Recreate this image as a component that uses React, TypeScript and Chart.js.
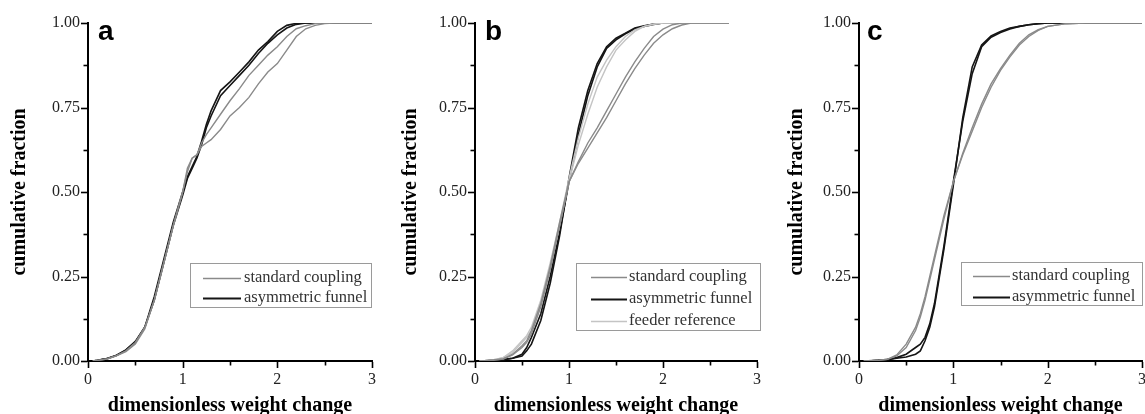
import { useEffect, useRef } from 'react';
import { Chart, registerables } from 'chart.js';

Chart.register(...registerables);

// ---------- data ----------
const xTicks = [0, 1, 2, 3];
const yTicks = [0, 0.25, 0.5, 0.75, 1];

// panel a
const xA = [0.05, 0.1, 0.2, 0.3, 0.4, 0.5, 0.6, 0.7, 0.8, 0.9, 1.0, 1.05, 1.1, 1.15, 1.2, 1.25, 1.3, 1.4, 1.5, 1.6, 1.7, 1.8, 1.9, 2.0, 2.1, 2.2, 2.3, 2.4, 2.5, 2.6, 2.8, 3.0];
const aStd1 = [0, 0.002, 0.006, 0.016, 0.03, 0.055, 0.1, 0.18, 0.29, 0.4, 0.5, 0.57, 0.6, 0.61, 0.645, 0.67, 0.69, 0.73, 0.77, 0.806, 0.845, 0.875, 0.905, 0.93, 0.96, 0.983, 0.992, 0.998, 1, 1, 1, 1];
const aStd2 = [0, 0.002, 0.006, 0.015, 0.028, 0.05, 0.095, 0.18, 0.29, 0.4, 0.5, 0.56, 0.6, 0.61, 0.635, 0.645, 0.655, 0.685, 0.725, 0.75, 0.78, 0.82, 0.855, 0.88, 0.92, 0.96, 0.983, 0.993, 0.998, 1, 1, 1];
const aFun1 = [0, 0.002, 0.007, 0.017, 0.033, 0.058, 0.1, 0.19, 0.3, 0.41, 0.5, 0.545, 0.575, 0.605, 0.65, 0.7, 0.74, 0.8, 0.826, 0.855, 0.885, 0.92, 0.945, 0.975, 0.993, 0.999, 1, 1, 1, 1, 1, 1];
const aFun2 = [0, 0.002, 0.007, 0.016, 0.032, 0.056, 0.1, 0.18, 0.29, 0.4, 0.49, 0.54, 0.57, 0.6, 0.64, 0.69, 0.725, 0.785, 0.815, 0.845, 0.875, 0.91, 0.94, 0.965, 0.985, 0.996, 1, 1, 1, 1, 1, 1];

// panel b
const xB = [0.05, 0.1, 0.2, 0.3, 0.4, 0.5, 0.55, 0.6, 0.7, 0.8, 0.9, 1.0, 1.1, 1.2, 1.3, 1.4, 1.5, 1.6, 1.7, 1.8, 1.9, 2.0, 2.1, 2.2, 2.3, 2.4, 2.7];
const bStd1 = [0, 0.001, 0.003, 0.006, 0.018, 0.04, 0.055, 0.08, 0.16, 0.27, 0.4, 0.53, 0.585, 0.63, 0.675, 0.72, 0.77, 0.82, 0.865, 0.905, 0.94, 0.965, 0.983, 0.994, 1, 1, 1];
const bStd2 = [0, 0.001, 0.003, 0.006, 0.02, 0.045, 0.06, 0.09, 0.17, 0.28, 0.41, 0.53, 0.59, 0.645, 0.69, 0.74, 0.79, 0.84, 0.885, 0.925, 0.96, 0.982, 0.995, 1, 1, 1, 1];
const bFun1 = [0, 0, 0.002, 0.004, 0.008, 0.015, 0.03, 0.05, 0.12, 0.23, 0.37, 0.54, 0.69, 0.8, 0.88, 0.93, 0.955, 0.97, 0.985, 0.992, 0.997, 1, 1, 1, 1, 1, 1];
const bFun2 = [0, 0, 0.002, 0.004, 0.008, 0.02, 0.04, 0.07, 0.14, 0.25, 0.38, 0.53, 0.67, 0.785, 0.87, 0.925, 0.95, 0.968, 0.982, 0.99, 0.996, 1, 1, 1, 1, 1, 1];
const bFeed1 = [0, 0.001, 0.004, 0.01, 0.025, 0.055, 0.07, 0.09, 0.17, 0.28, 0.4, 0.53, 0.64, 0.73, 0.81, 0.87, 0.92, 0.95, 0.975, 0.99, 0.996, 1, 1, 1, 1, 1, 1];
const bFeed2 = [0, 0.001, 0.004, 0.01, 0.03, 0.06, 0.075, 0.1, 0.18, 0.29, 0.41, 0.54, 0.66, 0.76, 0.84, 0.89, 0.93, 0.96, 0.98, 0.99, 0.997, 1, 1, 1, 1, 1, 1];

// panel c
const xC = [0.05, 0.1, 0.2, 0.3, 0.4, 0.5, 0.6, 0.65, 0.7, 0.75, 0.8, 0.9, 1.0, 1.1, 1.2, 1.3, 1.4, 1.5, 1.6, 1.7, 1.8, 1.9, 2.0, 2.2, 2.4, 2.6, 3.0];
const cStd1 = [0, 0.001, 0.002, 0.005, 0.015, 0.04, 0.09, 0.13, 0.18, 0.24, 0.3, 0.42, 0.53, 0.61, 0.68, 0.75, 0.81, 0.86, 0.9, 0.935, 0.96, 0.978, 0.99, 0.998, 1, 1, 1];
const cStd2 = [0, 0.001, 0.002, 0.005, 0.018, 0.05, 0.1, 0.14, 0.19, 0.25, 0.31, 0.43, 0.53, 0.615, 0.69, 0.76, 0.82, 0.865, 0.905, 0.94, 0.965, 0.98, 0.99, 0.998, 1, 1, 1];
const cFun1 = [0, 0, 0.002, 0.004, 0.008, 0.012, 0.02, 0.03, 0.06, 0.1, 0.16, 0.33, 0.52, 0.72, 0.87, 0.935, 0.962, 0.975, 0.985, 0.99, 0.995, 0.998, 1, 1, 1, 1, 1];
const cFun2 = [0, 0, 0.002, 0.004, 0.01, 0.02, 0.04, 0.05, 0.07, 0.11, 0.17, 0.34, 0.53, 0.71, 0.85, 0.93, 0.958, 0.972, 0.982, 0.99, 0.995, 0.998, 1, 1, 1, 1, 1];

const LBL_STD = 'standard coupling';
const LBL_FUN = 'asymmetric funnel';
const LBL_FEED = 'feeder reference';
const X_TITLE = 'dimensionless weight change';
const Y_TITLE = 'cumulative fraction';

// ---------- styles ----------
const C_STD = '#8a8a8a';
const C_FUN = '#151515';
const C_FEED = '#c4c4c4';
const SERIF = '"Liberation Serif", "Times New Roman", serif';
const PAGE_H = 414;

type Curve = { xs: number[]; ys: number[]; color: string; width: number };
type LegendRow = { label: string; color: string; width: number };
type PanelCfg = {
  letter: string;
  left: number;
  width: number;
  yAxisWidth: number;
  padRight: number;
  yTitlePad: number;
  curves: Curve[];
  legend: { left: number; top: number; right: number; bottom: number; rows: LegendRow[]; rowY: number[]; lineX0: number; lineX1: number; textX: number };
  letterX: number;
};

const panels: PanelCfg[] = [
  {
    letter: 'a', left: 0, width: 385, yAxisWidth: 88, padRight: 13, yTitlePad: 10,
    curves: [
      { xs: xA, ys: aStd1, color: C_STD, width: 1.4 },
      { xs: xA, ys: aStd2, color: C_STD, width: 1.4 },
      { xs: xA, ys: aFun1, color: C_FUN, width: 1.6 },
      { xs: xA, ys: aFun2, color: C_FUN, width: 1.6 },
    ],
    legend: { left: 190, top: 263, right: 371, bottom: 307, rowY: [278, 298], lineX0: 203, lineX1: 241, textX: 244,
      rows: [{ label: LBL_STD, color: C_STD, width: 1.3 }, { label: LBL_FUN, color: C_FUN, width: 2 }] },
    letterX: 98,
  },
  {
    letter: 'b', left: 380, width: 390, yAxisWidth: 95, padRight: 12, yTitlePad: 21,
    curves: [
      { xs: xB, ys: bStd1, color: C_STD, width: 1.4 },
      { xs: xB, ys: bStd2, color: C_STD, width: 1.4 },
      { xs: xB, ys: bFeed1, color: C_FEED, width: 1.4 },
      { xs: xB, ys: bFeed2, color: C_FEED, width: 1.4 },
      { xs: xB, ys: bFun1, color: C_FUN, width: 1.6 },
      { xs: xB, ys: bFun2, color: C_FUN, width: 1.6 },
    ],
    legend: { left: 196, top: 263, right: 380, bottom: 330, rowY: [277, 299, 321], lineX0: 211, lineX1: 247, textX: 249,
      rows: [{ label: LBL_STD, color: C_STD, width: 1.3 }, { label: LBL_FUN, color: C_FUN, width: 2 }, { label: LBL_FEED, color: C_FEED, width: 1.3 }] },
    letterX: 105,
  },
  {
    letter: 'c', left: 760, width: 395, yAxisWidth: 99, padRight: 12, yTitlePad: 27,
    curves: [
      { xs: xC, ys: cStd1, color: C_STD, width: 1.4 },
      { xs: xC, ys: cStd2, color: C_STD, width: 1.4 },
      { xs: xC, ys: cFun1, color: C_FUN, width: 1.6 },
      { xs: xC, ys: cFun2, color: C_FUN, width: 1.6 },
    ],
    legend: { left: 201, top: 262, right: 382, bottom: 305, rowY: [276, 297], lineX0: 213, lineX1: 250, textX: 252,
      rows: [{ label: LBL_STD, color: C_STD, width: 1.3 }, { label: LBL_FUN, color: C_FUN, width: 2 }] },
    letterX: 107,
  },
];

const decorPlugin = {
  id: 'decor',
  afterDraw(chart: any, _args: any, opts: any) {
    const ctx = chart.ctx as CanvasRenderingContext2D;
    const xs = chart.scales.x;
    const ys = chart.scales.y;
    const area = chart.chartArea;
    ctx.save();
    ctx.strokeStyle = '#000';
    ctx.lineWidth = 1.6;
    // y ticks (outward)
    for (let i = 0; i <= 8; i++) {
      const val = i * 0.125;
      const len = i % 2 === 0 ? 6 : 3.5;
      const py = Math.round(ys.getPixelForValue(val)) + 0.5;
      ctx.beginPath();
      ctx.moveTo(area.left - 1, py);
      ctx.lineTo(area.left - 1 - len, py);
      ctx.stroke();
    }
    // x ticks (outward)
    for (let i = 0; i <= 6; i++) {
      const val = i * 0.5;
      const len = i % 2 === 0 ? 6 : 3.5;
      const px = Math.round(xs.getPixelForValue(val)) + 0.5;
      ctx.beginPath();
      ctx.moveTo(px, area.bottom + 1);
      ctx.lineTo(px, area.bottom + 1 + len);
      ctx.stroke();
    }
    // legend box
    const lg = opts.legend;
    ctx.fillStyle = '#fff';
    ctx.fillRect(lg.left, lg.top, lg.right - lg.left, lg.bottom - lg.top);
    ctx.strokeStyle = '#9a9a9a';
    ctx.lineWidth = 1;
    ctx.strokeRect(lg.left + 0.5, lg.top + 0.5, lg.right - lg.left, lg.bottom - lg.top);
    ctx.font = `16.5px ${SERIF}`;
    ctx.textBaseline = 'middle';
    ctx.textAlign = 'left';
    lg.rows.forEach((r: LegendRow, i: number) => {
      const y = lg.rowY[i];
      ctx.strokeStyle = r.color;
      ctx.lineWidth = r.width;
      ctx.beginPath();
      ctx.moveTo(lg.lineX0, y + 0.5);
      ctx.lineTo(lg.lineX1, y + 0.5);
      ctx.stroke();
      ctx.fillStyle = '#333';
      ctx.fillText(r.label, lg.textX, y);
    });
    // panel letter
    ctx.fillStyle = '#000';
    ctx.font = `bold 28px "Liberation Sans", Arial, sans-serif`;
    ctx.textBaseline = 'alphabetic';
    ctx.fillText(opts.letter, opts.letterX, 40);
    ctx.restore();
  },
};

function Panel({ cfg }: { cfg: PanelCfg }) {
  const ref = useRef<HTMLCanvasElement | null>(null);
  useEffect(() => {
    if (!ref.current) return;
    const chart = new Chart(ref.current, {
      type: 'line',
      data: {
        datasets: cfg.curves.map((c) => ({
          data: c.xs.map((x, i) => ({ x, y: c.ys[i] })),
          borderColor: c.color,
          borderWidth: c.width,
          pointRadius: 0,
          fill: false,
          tension: 0,
        })),
      },
      options: {
        responsive: false,
        animation: false,
        devicePixelRatio: 1,
        events: [],
        layout: { padding: { left: 0, right: cfg.padRight, top: 23, bottom: 0 } },
        plugins: {
          legend: { display: false },
          tooltip: { enabled: false },
          decor: { legend: cfg.legend, letter: cfg.letter, letterX: cfg.letterX },
        } as any,
        scales: {
          x: {
            type: 'linear',
            min: 0,
            max: 3,
            afterFit: (s: any) => { s.height = 53; },
            afterBuildTicks: (s: any) => { s.ticks = xTicks.map((t) => ({ value: t })); },
            grid: { display: false, drawTicks: false },
            border: { display: true, color: '#000', width: 2 },
            ticks: { color: '#222', padding: 9, font: { family: SERIF, size: 16 }, callback: (t: any) => String(t), maxRotation: 0 },
            title: { display: true, text: X_TITLE, color: '#000', padding: { top: 0, bottom: -2 }, font: { family: SERIF, size: 20, weight: 'bold', lineHeight: 1 } },
          },
          y: {
            type: 'linear',
            min: 0,
            max: 1,
            afterFit: (s: any) => { s.width = cfg.yAxisWidth; },
            afterBuildTicks: (s: any) => { s.ticks = yTicks.map((t) => ({ value: t })); },
            grid: { display: false, drawTicks: false },
            border: { display: true, color: '#000', width: 2 },
            ticks: { color: '#222', padding: 8, font: { family: SERIF, size: 16 }, callback: (t: any) => Number(t).toFixed(2) },
            title: { display: true, text: Y_TITLE, color: '#000', padding: { top: cfg.yTitlePad, bottom: 0 }, font: { family: SERIF, size: 20, weight: 'bold', lineHeight: 1 } },
          },
        },
      },
      plugins: [decorPlugin],
    });
    return () => chart.destroy();
  }, [cfg]);
  return (
    <canvas
      ref={ref}
      width={cfg.width}
      height={PAGE_H}
      style={{ position: 'absolute', left: cfg.left, top: 0 }}
    />
  );
}

export default function App() {
  return (
    <div style={{ position: 'fixed', left: 0, top: 0, width: 1145, height: PAGE_H, overflow: 'hidden', background: '#fff' }}>
      {panels.map((p) => (
        <Panel key={p.letter} cfg={p} />
      ))}
    </div>
  );
}
